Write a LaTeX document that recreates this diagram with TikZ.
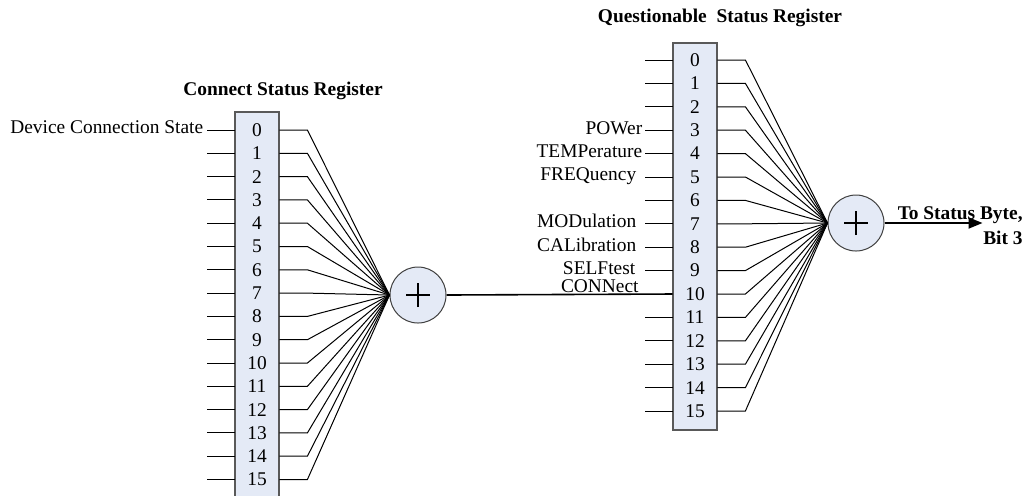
\documentclass[tikz,border=0pt]{standalone}
\usepackage{fontspec}
\setmainfont{Liberation Serif}
\usetikzlibrary{arrows.meta,positioning}
\definecolor{regfill}{RGB}{228,234,246}
\tikzset{
  regbox/.style={draw=black!65, fill=regfill, line width=0.6pt, minimum width=22pt, inner sep=0pt},
  bitrow/.style={minimum width=22pt, minimum height=11pt, inner sep=0pt},
  sumnode/.style={circle, draw=black!75, fill=regfill, line width=0.5pt, minimum size=28pt, inner sep=0pt},
  plusbar/.style={line width=1.2pt, line cap=butt},
  wire/.style={line width=0.5pt},
  sig/.style={inner sep=0pt, text height=0.68em, text depth=0em, yshift=1.5pt},
  regtitle/.style={font=\fontsize{9.7}{12}\selectfont\bfseries}
}

\begin{document}
\begin{tikzpicture}[x=0.5pt, y=-0.5pt, font=\fontsize{9.7}{12}\selectfont]
\useasboundingbox (0,0) rectangle (1026,495);

% Connect Status Register
\node[regtitle] (ctitle) at (283,91) {Connect Status Register};
\node[regbox, minimum height=193pt] (cbox) at (257,305) {};
\foreach \i in {0,...,15} {
  \node[bitrow] (c\i) at (257,{130+23.3*\i}) {\i};
  \draw[wire] (c\i.west) -- ++(-28,0) coordinate (cin\i);
}
\node[sig, left=1.5pt of cin0] (lbldev) {Device Connection State};

% summing point of the connect register
\node[sumnode] (csum) at (418,295) {};
\draw[plusbar] ([xshift=-6pt]csum.center) -- ([xshift=6pt]csum.center)
  ([yshift=-6pt]csum.center) -- ([yshift=6pt]csum.center);
\foreach \i in {0,...,15}
  \draw[wire] (c\i.east) -- ++(28,0) -- (csum.west);

% Questionable Status Register
\node[regtitle] (qtitle) at (720,18) {Questionable\ \ Status Register};
\node[regbox, minimum height=193.5pt] (qbox) at (695,236.5) {};
\foreach \i in {0,...,15}
  \node[bitrow] (q\i) at (695,{60+23.4*\i}) {\i};
\foreach \i in {0,...,9,11,12,13,14,15}
  \draw[wire] (q\i.west) -- ++(-28,0) coordinate (qin\i);

% inputs with names
\node[sig, left=1pt of qin3] (lblpow) {POWer};
\node[sig, left=1pt of qin4] (lbltemp) {TEMPerature};
\node[sig, left=4pt of qin5] (lblfreq) {FREQuency};
\node[sig, left=4pt of qin7] (lblmod) {MODulation};
\node[sig, left=4pt of qin8] (lblcal) {CALibration};
\node[sig, left=4.5pt of qin9] (lblself) {SELFtest};
\node[inner sep=0pt, anchor=base east] (lblconn) at (639,292) {CONNect};

% connect summary into bit 10
\draw[line width=0.8pt] (csum.east) -- (q10.west);

% summing point of the questionable register
\node[sumnode] (qsum) at (856,223) {};
\draw[plusbar] ([xshift=-6pt]qsum.center) -- ([xshift=6pt]qsum.center)
  ([yshift=-6pt]qsum.center) -- ([yshift=6pt]qsum.center);
\foreach \i in {0,...,15}
  \draw[wire] (q\i.east) -- ++(28,0) -- (qsum.west);

% to the status byte
\draw[line width=0.9pt, -{Triangle[length=7pt,width=5.5pt]}] (qsum.east) -- ++(98,0) coordinate (sbyte);
\node[font=\fontsize{9.7}{12.5}\selectfont\bfseries, align=right, anchor=east, inner sep=0pt] (lblbyte) at (1023,226) {To Status Byte,\\Bit 3};
\end{tikzpicture}
\end{document}
